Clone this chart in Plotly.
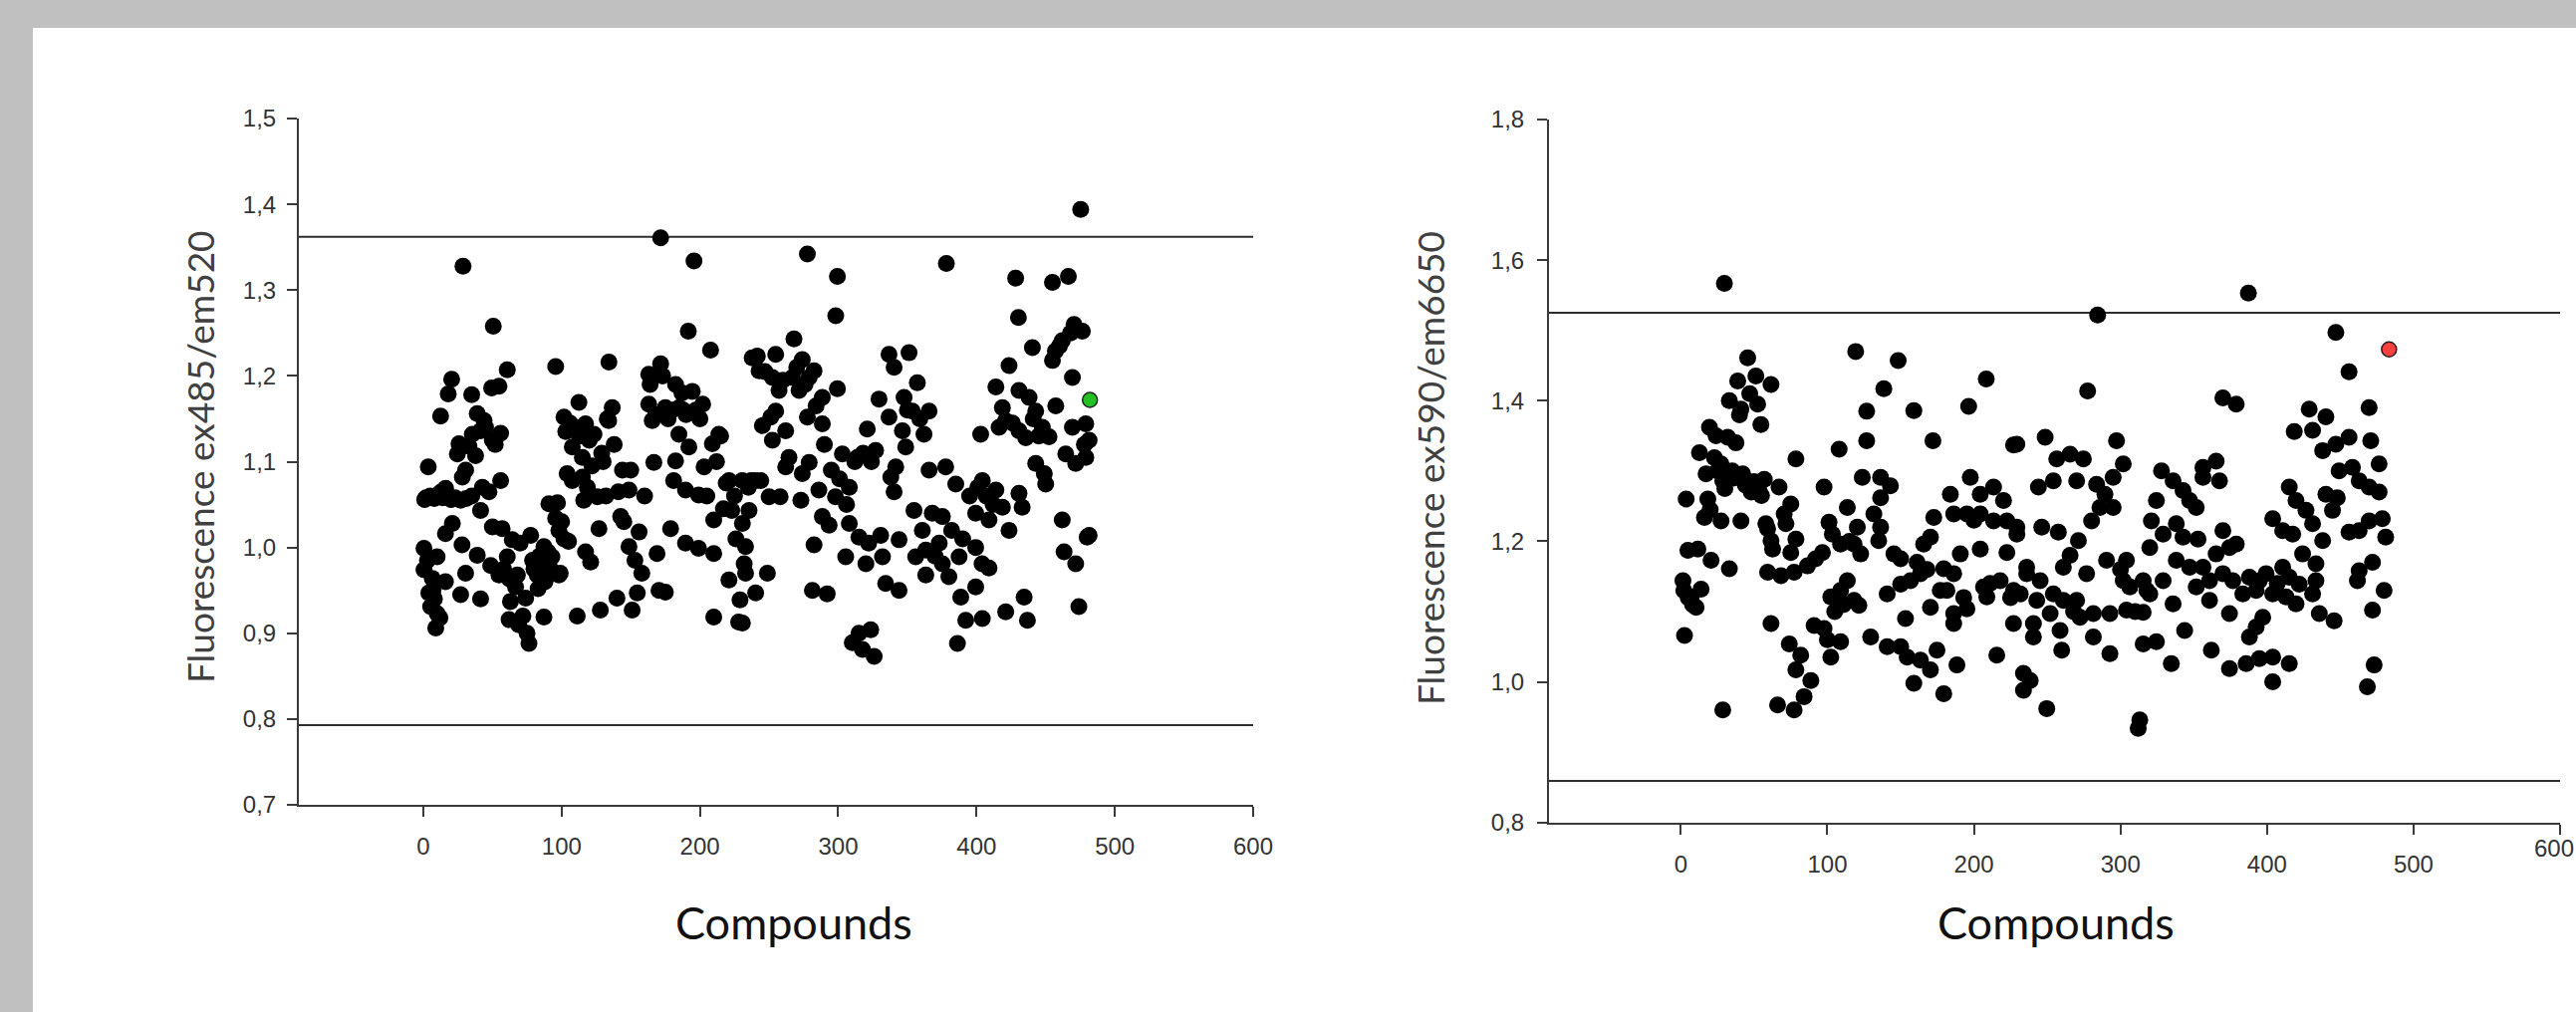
import plotly.graph_objects as go

# ---------------- data ----------------
# Left panel: Fluorescence ex485/em520 vs compound index
LEFT_POINTS = [
    (0.5,0.999),(0.5,0.974),(1,1.056),(2,1.058),(3,0.985),(3.6,1.094),(4,0.947),(5,1.060),(5.3,0.931),(6.5,0.964),
    (7,0.950),(8,1.057),(8,0.940),(9,0.906),(10,0.989),(10,0.923),(11,1.062),(12,0.918),(12.5,1.153),(13,1.065),
    (14,1.058),(16,1.016),(16,0.960),(16.1,1.069),(17,1.060),(18,1.179),(20,1.056),(20.5,1.196),(21,1.028),(23,1.058),
    (24.6,1.109),(25.8,1.121),(27,0.945),(27,1.055),(28,1.003),(28.2,1.082),(28.7,1.328),(30.6,1.090),(30.6,0.970),(31,1.057),
    (33,1.118),(35,1.178),(35,1.060),(35.4,1.132),(37.8,1.107),(39,1.156),(39,0.991),(41.4,1.136),(41.4,1.043),(41.4,0.940),
    (42.7,1.070),(43.9,1.148),(45,1.140),(47.5,1.065),(48.7,0.979),(49.4,1.186),(49.9,1.125),(49.9,1.024),(50.6,1.258),(52,1.120),
    (54.7,1.188),(54.7,0.968),(55.9,1.133),(55.9,1.078),(57,1.022),(58,0.975),(60.7,1.207),(60.7,0.989),
    (62,0.964),(62,0.916),(63,0.937),(64.3,1.009),(65,0.960),(66.7,0.954),(68,0.968),(69,0.910),(70,1.005),(72,0.920),
    (74,0.941),(75,0.900),(76.4,0.888),(77.6,1.014),(79,0.985),(80,0.975),(82.4,0.968),(83,0.952),(84,0.990),(86,0.981),
    (87.2,1.001),(87.2,0.919),(88,0.960),(90,0.995),(90.8,1.051),(92,0.975),(93,0.989),(95.7,1.034),(95.7,1.211),(97,1.052),
    (98,0.968),(98,1.020),(99,0.970),
    (100,1.030),(101.7,1.010),(101.7,1.152),(103,1.135),(104,1.086),(105,1.007),(106,1.145),(107.7,1.078),(107.7,1.117),(110,1.140),
    (111.3,0.920),(112.5,1.169),(113,1.130),(115,1.105),(115,1.082),(116,1.055),(117.3,1.144),(117.3,0.995),(118.6,1.070),(120,1.125),
    (121,0.983),(122,1.095),(123.4,1.132),(125.8,1.059),(127,1.022),(128,0.927),(129,1.110),(130,1.100),(132,1.060),(133,1.150),
    (134,1.148),(134.2,1.216),(136.6,1.163),(138,1.120),(140,0.941),(141,1.065),(142.7,1.036),(144,1.090),(145,1.030),(148.7,1.067),
    (148.7,1.001),(150,1.090),(151,0.927),(153,0.985),(154.7,0.947),(156,1.018),(158,0.970),(160,1.060),
    (163,1.202),(163,1.167),(164,1.190),(165.5,1.148),(166.7,1.099),(168,1.155),(169,0.993),(170.4,0.950),(171.6,1.214),(171.6,1.361),
    (173,1.200),(175,1.163),(175,0.948),(177,1.150),(178.8,1.022),(180,1.160),(181,1.078),(182.4,1.190),(182.4,1.101),(184.8,1.132),
    (185,1.163),(187,1.180),(188,1.160),(189.6,1.067),(189.6,1.005),(190,1.155),(191.6,1.252),(192,1.117),(194.5,1.182),(195.7,1.334),
    (197,1.160),(199,1.061),(199,0.999),(200,1.150),(202,1.167),(203,1.094),(205,1.060),(207.7,1.230),(209,1.121),(210,0.993),
    (210,1.032),(210,0.919),(212,1.100),(213.7,1.132),(215,1.130),(217,1.045),(219,1.075),(221,1.078),(221,0.962),(223,1.043),
    (225,1.060),(226,1.010),(228,0.913),(229,0.939),(230.6,1.078),(232,0.981),(235,1.070),(237.8,1.221),
    (230.7,1.028),(230.7,0.912),(233,1.001),(233,0.970),(235.5,1.043),(237,1.078),(240,1.078),(240.3,0.947),(241.5,1.223),(242.8,1.206),
    (244,1.078),(245.2,1.142),(247,1.205),(248.8,0.970),(250,1.059),(251.2,1.152),(252.4,1.198),(252.4,1.125),(254.8,1.225),(254.8,1.159),
    (257.2,1.183),(258,1.059),(260,1.195),(262,1.136),(262,1.094),(264.4,1.105),(266.9,1.198),(268,1.243),(270,1.210),(271.7,1.183),
    (273,1.055),(274,1.219),(274,1.086),(276,1.190),(277.7,1.342),(277.7,1.152),(279,1.198),(279,1.099),(281.3,0.950),(282.5,1.206),
    (282.5,1.003),(284,1.165),(286,1.067),(288.5,1.175),(288.5,1.144),(288.5,1.036),(290,1.120),(292,0.946),(293.4,1.026),(295,1.090),
    (298,1.059),(298.2,1.270),(299.4,1.316),(299.4,1.185),(301,1.080),(303,1.109),(305.4,0.989),(306,1.050),(308,1.070),(308,1.028),
    (310.2,0.889),(312,1.100),(313.9,1.105),(315,1.012),(315,0.900),(317.5,0.881),(318,1.110),(320,0.981),(321,1.138),(322,1.005),
    (323.5,0.904),(324,1.100),(326,0.873),(327,1.113),(329.5,1.173),(330.7,1.014),
    (332,0.989),(334.3,0.958),(336.7,1.225),(336.7,1.152),(338,1.082),(340.4,1.210),(340.4,1.065),(341.6,1.094),(344,1.009),(344,0.950),
    (346.4,1.136),(347.6,1.175),(348.8,1.117),(350,1.160),(351.2,1.227),(353.6,1.159),(354.8,1.043),(356,0.989),(357.2,1.192),(359,1.150),
    (360.8,1.020),(362,1.132),(363.3,0.997),(363.3,0.968),(365.7,1.159),(365.7,1.090),(368,1.040),(370,0.990),(373,1.005),(375.3,1.036),
    (375.3,0.981),(377.7,1.094),(378.2,1.331),(380,0.966),(382,1.020),(385,1.074),(386.2,0.888),(387.4,0.989),(388.6,0.942),(390,1.010),
    (392.2,0.915),(395,1.060),(399.4,1.040),(399.4,1.000),(399.4,0.954),(401,1.070),(403,1.132),(404.2,1.078),(404,0.981),(404.2,0.917),
    (407,1.060),(409,1.032),(409,0.976),(412,1.050),(414,1.187),(414,1.067),(416.3,1.140),(418.7,1.163),(418.7,1.047),(421,1.148),
    (421.1,0.925),(423.5,1.212),(423.5,1.020),(426,1.145),(428.3,1.314),(430.3,1.268),(430.7,1.183),(430.7,1.136),(430.7,1.063),(433,1.047),
    (434.4,0.942),(435.6,1.128),(436.8,0.915),(438,1.175),(440.4,1.233),(441,1.150),(442.8,1.159),(442.8,1.098),(445,1.130),(447.6,1.140),
    (449,1.086),(450,1.074),(452.4,1.129),(454.9,1.309),(454.9,1.218),(457,1.229),(457.3,1.165),(460,1.235),(462,1.241),(462,1.032),
    (463.3,0.995),(464.5,1.109),(466.4,1.316),(468,1.250),(469.3,1.198),(469.3,1.140),(470.5,1.260),(471.7,1.098),(471.7,0.981),(474,0.931),
    (475.3,1.394),(476.5,1.252),(478,1.120),(479,1.105),(479,1.144),(481.4,1.125),(481.4,1.014),(480,1.012),
]
LEFT_HIGHLIGHT = (482, 1.172)          # green compound
LEFT_THRESHOLDS = [1.362, 0.793]

# Right panel: Fluorescence ex590/em6650 vs compound index
RIGHT_POINTS = [
    (1.4,1.144),(2,1.130),(2.5,1.066),(3.6,1.260),(4.8,1.187),(5,1.120),(7,1.121),(8,1.110),(10.4,1.106),(11.6,1.189),
    (12.7,1.326),(13.8,1.132),(16.1,1.234),(17.2,1.296),(18.4,1.260),(19.5,1.362),(20,1.245),(20.6,1.173),(22.9,1.319),(24,1.350),
    (25,1.300),(27.4,1.310),(27.4,1.229),(28.6,1.286),(28.6,0.960),(29.7,1.567),(30,1.275),(32,1.348),(33.1,1.400),(33.1,1.161),
    (35,1.300),(36,1.290),(37.6,1.340),(38.8,1.428),(40,1.380),(41,1.388),(41,1.229),(42.2,1.296),(44,1.280),(45.6,1.461),
    (47,1.410),(48,1.270),(50,1.285),(51.2,1.435),(52.4,1.395),(53,1.275),(54.6,1.366),(55,1.265),(56.9,1.288),(58,1.225),
    (59.2,1.218),(59.2,1.156),(61.5,1.423),(61.5,1.201),(61.5,1.083),(62.6,1.189),
    (66,0.967),(67,1.277),(68.3,1.151),(70.5,1.239),(71.7,1.225),(74,1.054),(75,1.253),(75,1.184),(77.3,1.156),(77.3,0.960),
    (78.5,1.317),(78.5,1.203),(78.5,1.017),(81.8,1.038),(84.1,0.979),(86.4,1.165),(88.7,1.002),(90.9,1.080),(92,1.175),(96.6,1.184),
    (97.7,1.277),(97.7,1.076),(100,1.060),(101.1,1.227),(102.3,1.121),(102.3,1.035),(103.4,1.210),(105,1.100),(108,1.331),(109,1.196),
    (109,1.130),(109,1.057),(111,1.110),(113.6,1.248),(113.6,1.144),(115,1.200),(118.2,1.196),(118.2,1.116),(119.3,1.470),(120.4,1.220),
    (121.5,1.109),(122.7,1.182),(123.8,1.291),(126.8,1.385),(126.8,1.343),(129.5,1.064),
    (131.7,1.239),(135,1.201),(136.3,1.291),(136.3,1.262),(136.3,1.220),(138.5,1.417),(140.8,1.125),(140.8,1.050),(143,1.279),(145.4,1.182),
    (148.3,1.457),(150,1.175),(150,1.139),(150,1.050),(153.3,1.090),(154.4,1.035),(156.7,1.144),(159,1.386),(159,0.998),(161.2,1.170),
    (163.5,1.154),(163.5,1.031),(165.7,1.196),(168,1.160),(170.3,1.206),(170.3,1.106),(170.3,1.017),(172,1.343),(172.6,1.234),(174.8,1.045),
    (177,1.130),(179.4,1.161),(179.4,0.983),(181.6,1.130),(183.9,1.267),(186.2,1.239),(186.2,1.154),(186.2,1.097),(186.2,1.083),(188.4,1.024),
    (190.7,1.182),(193,1.120),(195.2,1.239),(195.2,1.104),(196.4,1.392),(197.5,1.291),(200,1.230),(204.3,1.267),(204.3,1.239),(204.3,1.189),
    (206.6,1.135),(208.4,1.431),(208.8,1.121),(211,1.140),(213.4,1.277),(213.4,1.229),(215.6,1.038),(217.9,1.144),(220.2,1.258),(222.5,1.229),
    (222.5,1.184),(225,1.120),(227,1.337),(227,1.130),(227,1.083),(229.3,1.220),
    (229.3,1.338),(229.3,1.210),(231.6,1.125),(233.8,1.012),(233.8,0.988),(236,1.163),(236,1.154),(238.4,1.002),(240.6,1.083),(240.6,1.064),
    (242.9,1.116),(244,1.277),(245.2,1.144),(246.3,1.220),(248.6,1.348),(249.7,0.962),(252,1.097),(254.2,1.286),(254.2,1.125),(256.5,1.317),
    (257.6,1.213),(258.8,1.073),(259.9,1.045),(261,1.163),(261,1.116),(265.6,1.324),(265.6,1.180),(268,1.100),(270.1,1.286),(270.1,1.116),
    (271.3,1.201),(272.4,1.092),(274.7,1.317),(276.9,1.154),(277.6,1.414),(280.3,1.229),(281.5,1.097),(281.5,1.064),(283.7,1.281),(284.4,1.522),
    (286,1.248),(289.4,1.267),(290.5,1.173),(292.8,1.097),(292.8,1.040),(295,1.291),(295,1.248),(297.3,1.343),(300,1.160),(301.9,1.310),
    (301.9,1.144),(304.1,1.173),(304.1,1.102),(306.4,1.135),(310,1.100),(312.1,0.934),(313.2,0.946),(315.5,1.144),(315.5,1.099),(315.5,1.054),
    (318,1.130),(320,1.191),(320,1.125),(321.1,1.229),(324.5,1.258),(324.5,1.057),(328,1.300),(329.1,1.210),(329.1,1.144),
    (334.7,1.026),(335.9,1.286),(335.9,1.111),(338.1,1.225),(338.1,1.173),(342.7,1.272),(342.7,1.206),(343.8,1.073),(347.2,1.258),(347.2,1.163),
    (351.7,1.248),(351.7,1.135),(352.9,1.203),(356.3,1.305),(356.3,1.291),(356.3,1.163),(360.8,1.144),(360.8,1.116),(362,1.045),(365.3,1.314),
    (365.3,1.182),(367.6,1.286),(369.9,1.404),(369.9,1.215),(369.9,1.154),(374.4,1.191),(374.4,1.097),(374.4,1.019),(376.7,1.144),(379,1.395),
    (379,1.196),(383.5,1.125),(385.8,1.026),(387.3,1.553),(388,1.149),(388,1.064),(392.6,1.130),(392.6,1.078),(394.8,1.144),(394.8,1.033),
    (397.1,1.092),(399.4,1.154),(403.9,1.232),(403.9,1.125),(403.9,1.035),(403.9,1.000),(407,1.140),(410.7,1.215),(410.7,1.163),(413,1.121),
    (415.2,1.277),(415.2,1.149),(415.2,1.026),(417.5,1.210),(418.6,1.356),(419.8,1.258),(419.8,1.111),(422,1.139),(424.3,1.182),(426.6,1.244),
    (428.8,1.388),(431.1,1.358),(431.1,1.225),(431.1,1.125),(433.4,1.168),(433.4,1.144),(435.7,1.097),(438,1.329),(438,1.201),(440.2,1.377),
    (440.2,1.267),(444.7,1.244),(445.8,1.087),(447,1.497),(447,1.338),(448,1.262),(449.2,1.300),(456,1.441),(456,1.348),(456,1.213),
    (458.3,1.305),(461.7,1.144),(462.9,1.286),(462.9,1.215),(462.9,1.158),(468.5,0.993),(469.7,1.390),(469.7,1.277),(469.7,1.229),(470.8,1.343),
    (472,1.170),(472,1.102),(473.1,1.024),(476.5,1.310),(476.5,1.270),(478.7,1.232),(479.9,1.130),(481,1.206),
]
RIGHT_HIGHLIGHT = (483.3, 1.473)       # red compound
RIGHT_THRESHOLDS = [1.525, 0.859]

X_RANGE = [-90, 600]
X_TICKS = [0, 100, 200, 300, 400, 500, 600]
LEFT_Y_RANGE = [0.7, 1.5]
RIGHT_Y_RANGE = [0.8, 1.8]
LEFT_Y_TITLE = "Fluorescence ex485/em520"
RIGHT_Y_TITLE = "Fluorescence ex590/em6650"
X_TITLE = "Compounds"

# ---------------- figure ----------------
W, H = 2586, 1016


def px(v):   # page x pixel -> paper fraction
    return v / W


def py(v):   # page y pixel -> paper fraction (from bottom)
    return 1 - v / H


AXIS_COLOR = "#3a3a3a"
TICK_FONT = dict(family="Liberation Sans, Arial, sans-serif", size=24, color="#333333")
TITLE_FONT_Y = dict(family="Lato, Noto Sans, sans-serif", size=37, color="#404040")
TITLE_FONT_X = dict(family="Lato, Noto Sans, sans-serif", size=45, color="#111111")

fig = go.Figure()


def add_panel(points, highlight, hl_color, thresholds, xa, ya):
    xs = [p[0] for p in points]
    ys = [p[1] for p in points]
    for t in thresholds:
        fig.add_trace(go.Scatter(x=X_RANGE, y=[t, t], mode="lines",
                                 line=dict(color="#2e2e2e", width=2),
                                 xaxis=xa, yaxis=ya, showlegend=False, hoverinfo="skip"))
    fig.add_trace(go.Scatter(x=xs, y=ys, mode="markers",
                             marker=dict(color="black", size=17, line=dict(width=0)),
                             xaxis=xa, yaxis=ya, showlegend=False))
    fig.add_trace(go.Scatter(x=[highlight[0]], y=[highlight[1]], mode="markers",
                             marker=dict(color=hl_color, size=15, line=dict(color="#222222", width=1.5)),
                             xaxis=xa, yaxis=ya, showlegend=False))


add_panel(LEFT_POINTS, LEFT_HIGHLIGHT, "#22c022", LEFT_THRESHOLDS, "x", "y")
add_panel(RIGHT_POINTS, RIGHT_HIGHLIGHT, "#ff4040", RIGHT_THRESHOLDS, "x2", "y2")

common_axis = dict(showline=True, linecolor=AXIS_COLOR, linewidth=2, ticks="outside",
                   ticklen=10, tickwidth=2, tickcolor=AXIS_COLOR, showgrid=False,
                   zeroline=False, tickfont=TICK_FONT, mirror=False, automargin=False)

# the last tick label of the right panel sits at the window edge; plotly drops such
# labels, so it is drawn as a text label anchored on the axis value, nudged to stay inside
right_edge_label = dict(text=str(X_TICKS[-1]), xref="x2", yref="paper", x=X_TICKS[-1], y=py(851),
                        xshift=-6, showarrow=False, xanchor="center", yanchor="middle", font=TICK_FONT)

fig.update_layout(
    template="none",
    width=W, height=H, autosize=False,
    margin=dict(l=0, r=0, t=0, b=0, pad=0, autoexpand=False),
    paper_bgcolor="#c0c0c0", plot_bgcolor="white",
    separators=", ",
    showlegend=False,
    xaxis=dict(domain=[px(300), px(1258)], range=X_RANGE, tickvals=X_TICKS, anchor="y",
               ticklabelstandoff=9, **common_axis),
    yaxis=dict(domain=[py(808), py(119)], range=LEFT_Y_RANGE, dtick=0.1, tick0=0.7,
               tickformat=".1f", anchor="x", ticklabelstandoff=6, **common_axis),
    xaxis2=dict(domain=[px(1555), px(2570)], range=X_RANGE, tickvals=X_TICKS,
                ticktext=[str(v) for v in X_TICKS[:-1]] + [""], anchor="y2",
                ticklabelstandoff=9, **common_axis),
    yaxis2=dict(domain=[py(825.7), py(120)], range=RIGHT_Y_RANGE, dtick=0.2, tick0=0.8,
                tickformat=".1f", anchor="x2", ticklabelstandoff=8, **common_axis),
    shapes=[dict(type="rect", xref="paper", yref="paper", x0=px(33), x1=1, y0=0, y1=py(28),
                 fillcolor="white", line=dict(width=0), layer="below")],
    annotations=[
        dict(text=LEFT_Y_TITLE, xref="paper", yref="paper", x=px(200), y=py(459),
             textangle=-90, showarrow=False, xanchor="center", yanchor="middle", font=TITLE_FONT_Y),
        dict(text=RIGHT_Y_TITLE, xref="paper", yref="paper", x=px(1435), y=py(470),
             textangle=-90, showarrow=False, xanchor="center", yanchor="middle", font=TITLE_FONT_Y),
        dict(text=X_TITLE, xref="paper", yref="paper", x=px(797), y=py(926),
             showarrow=False, xanchor="center", yanchor="middle", font=TITLE_FONT_X),
        dict(text=X_TITLE, xref="paper", yref="paper", x=px(2064), y=py(926),
             showarrow=False, xanchor="center", yanchor="middle", font=TITLE_FONT_X),
        right_edge_label,
    ],
)

# remove the default page margin so the figure starts at the window's top-left corner
PAGE_FIX = ("document.documentElement.style.margin='0';document.body.style.margin='0';"
            "document.documentElement.style.overflow='hidden';document.body.style.overflow='hidden';"
            "document.body.style.background='#ffffff';")

fig.write_html("out.html", config={"displayModeBar": False}, post_script=PAGE_FIX)
